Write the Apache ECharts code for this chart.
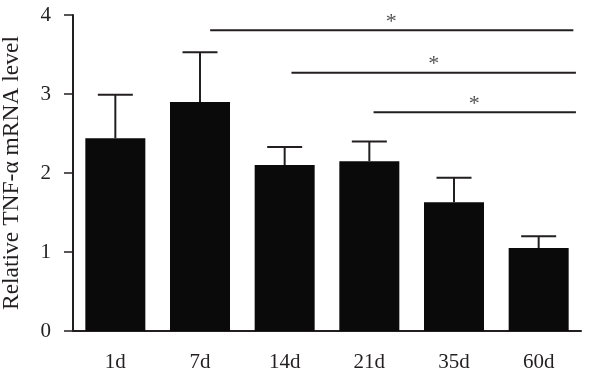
<!DOCTYPE html>
<html>
<head>
<meta charset="utf-8">
<script src="https://cdn.jsdelivr.net/npm/echarts@6/dist/echarts.min.js"></script>
<style>
  html, body { margin: 0; padding: 0; background: #fff; }
  #chart { width: 600px; height: 378px; }
</style>
</head>
<body>
<div id="chart"></div>
<script>
  // values
  const days = ["1d", "7d", "14d", "21d", "35d", "60d"]
  const means = [2.44, 2.90, 2.10, 2.15, 1.63, 1.05]
  const errTops = [2.99, 3.53, 2.33, 2.40, 1.94, 1.20]
  const yTicks = [0, 1, 2, 3, 4]

  // significance brackets: [x start, x end, y] on a 0..6 helper axis
  const sigLines = [
    [1.62, 5.91, 3.806],
    [2.58, 5.94, 3.27],
    [3.55, 5.94, 2.77]
  ]
  const sigStars = [
    [3.76, 3.77],
    [4.26, 3.235],
    [4.74, 2.735]
  ]

  const ink = "#231f20"
  const font = "'Liberation Serif', 'DejaVu Serif', serif"

  let myChart = echarts.init(document.getElementById("chart"))

  let lineSeries = sigLines.map(l => {
    return {
      type: "line",
      xAxisIndex: 1,
      symbol: "none",
      silent: true,
      lineStyle: {color: ink, width: 2},
      data: [[l[0], l[2]], [l[1], l[2]]]
    }
  })

  myChart.setOption({
    animation: false,
    grid: {
      left: 73,
      right: 19,
      top: 15,
      bottom: 47,
      containLabel: false,
      outerBoundsMode: "none"
    },
    xAxis: [
      {
        type: "category",
        data: days,
        axisLine: {lineStyle: {color: ink, width: 2}},
        axisTick: {alignWithLabel: true, length: 9, lineStyle: {color: ink, width: 1.5}},
        axisLabel: {color: ink, fontFamily: font, fontSize: 21, margin: 21}
      },
      {
        type: "value",
        min: 0,
        max: 6,
        show: false
      }
    ],
    yAxis: {
      type: "value",
      min: yTicks[0],
      max: yTicks[yTicks.length - 1],
      interval: 1,
      name: "Relative TNF-\u03b1 mRNA level",
      nameLocation: "middle",
      nameGap: 49,
      nameTextStyle: {color: ink, fontFamily: font, fontSize: 23.5},
      axisLine: {show: true, lineStyle: {color: ink, width: 2}},
      axisTick: {show: true, length: 9, lineStyle: {color: ink, width: 1.5}},
      axisLabel: {color: ink, fontFamily: font, fontSize: 21, margin: 22},
      splitLine: {show: false}
    },
    series: [
      {
        type: "bar",
        data: means,
        barWidth: 60,
        itemStyle: {color: "#0a0a0a"},
        z: 2
      },
      {
        type: "custom",
        data: days.map((d, i) => [i, means[i], errTops[i]]),
        renderItem: function (params, api) {
          let base = api.coord([api.value(0), api.value(1)])
          let top = api.coord([api.value(0), api.value(2)])
          let half = 17.5
          let style = {stroke: ink, lineWidth: 2}
          return {
            type: "group",
            children: [
              {type: "line", shape: {x1: base[0], y1: base[1], x2: top[0], y2: top[1]}, style: style},
              {type: "line", shape: {x1: top[0] - half, y1: top[1], x2: top[0] + half, y2: top[1]}, style: style}
            ]
          }
        },
        z: 3
      },
      ...lineSeries,
      {
        type: "scatter",
        xAxisIndex: 1,
        symbolSize: 0,
        silent: true,
        data: sigStars,
        label: {
          show: true,
          position: "top",
          distance: 0,
          formatter: "*",
          color: ink,
          fontFamily: font,
          fontSize: 22
        }
      }
    ]
  })
</script>
</body>
</html>
